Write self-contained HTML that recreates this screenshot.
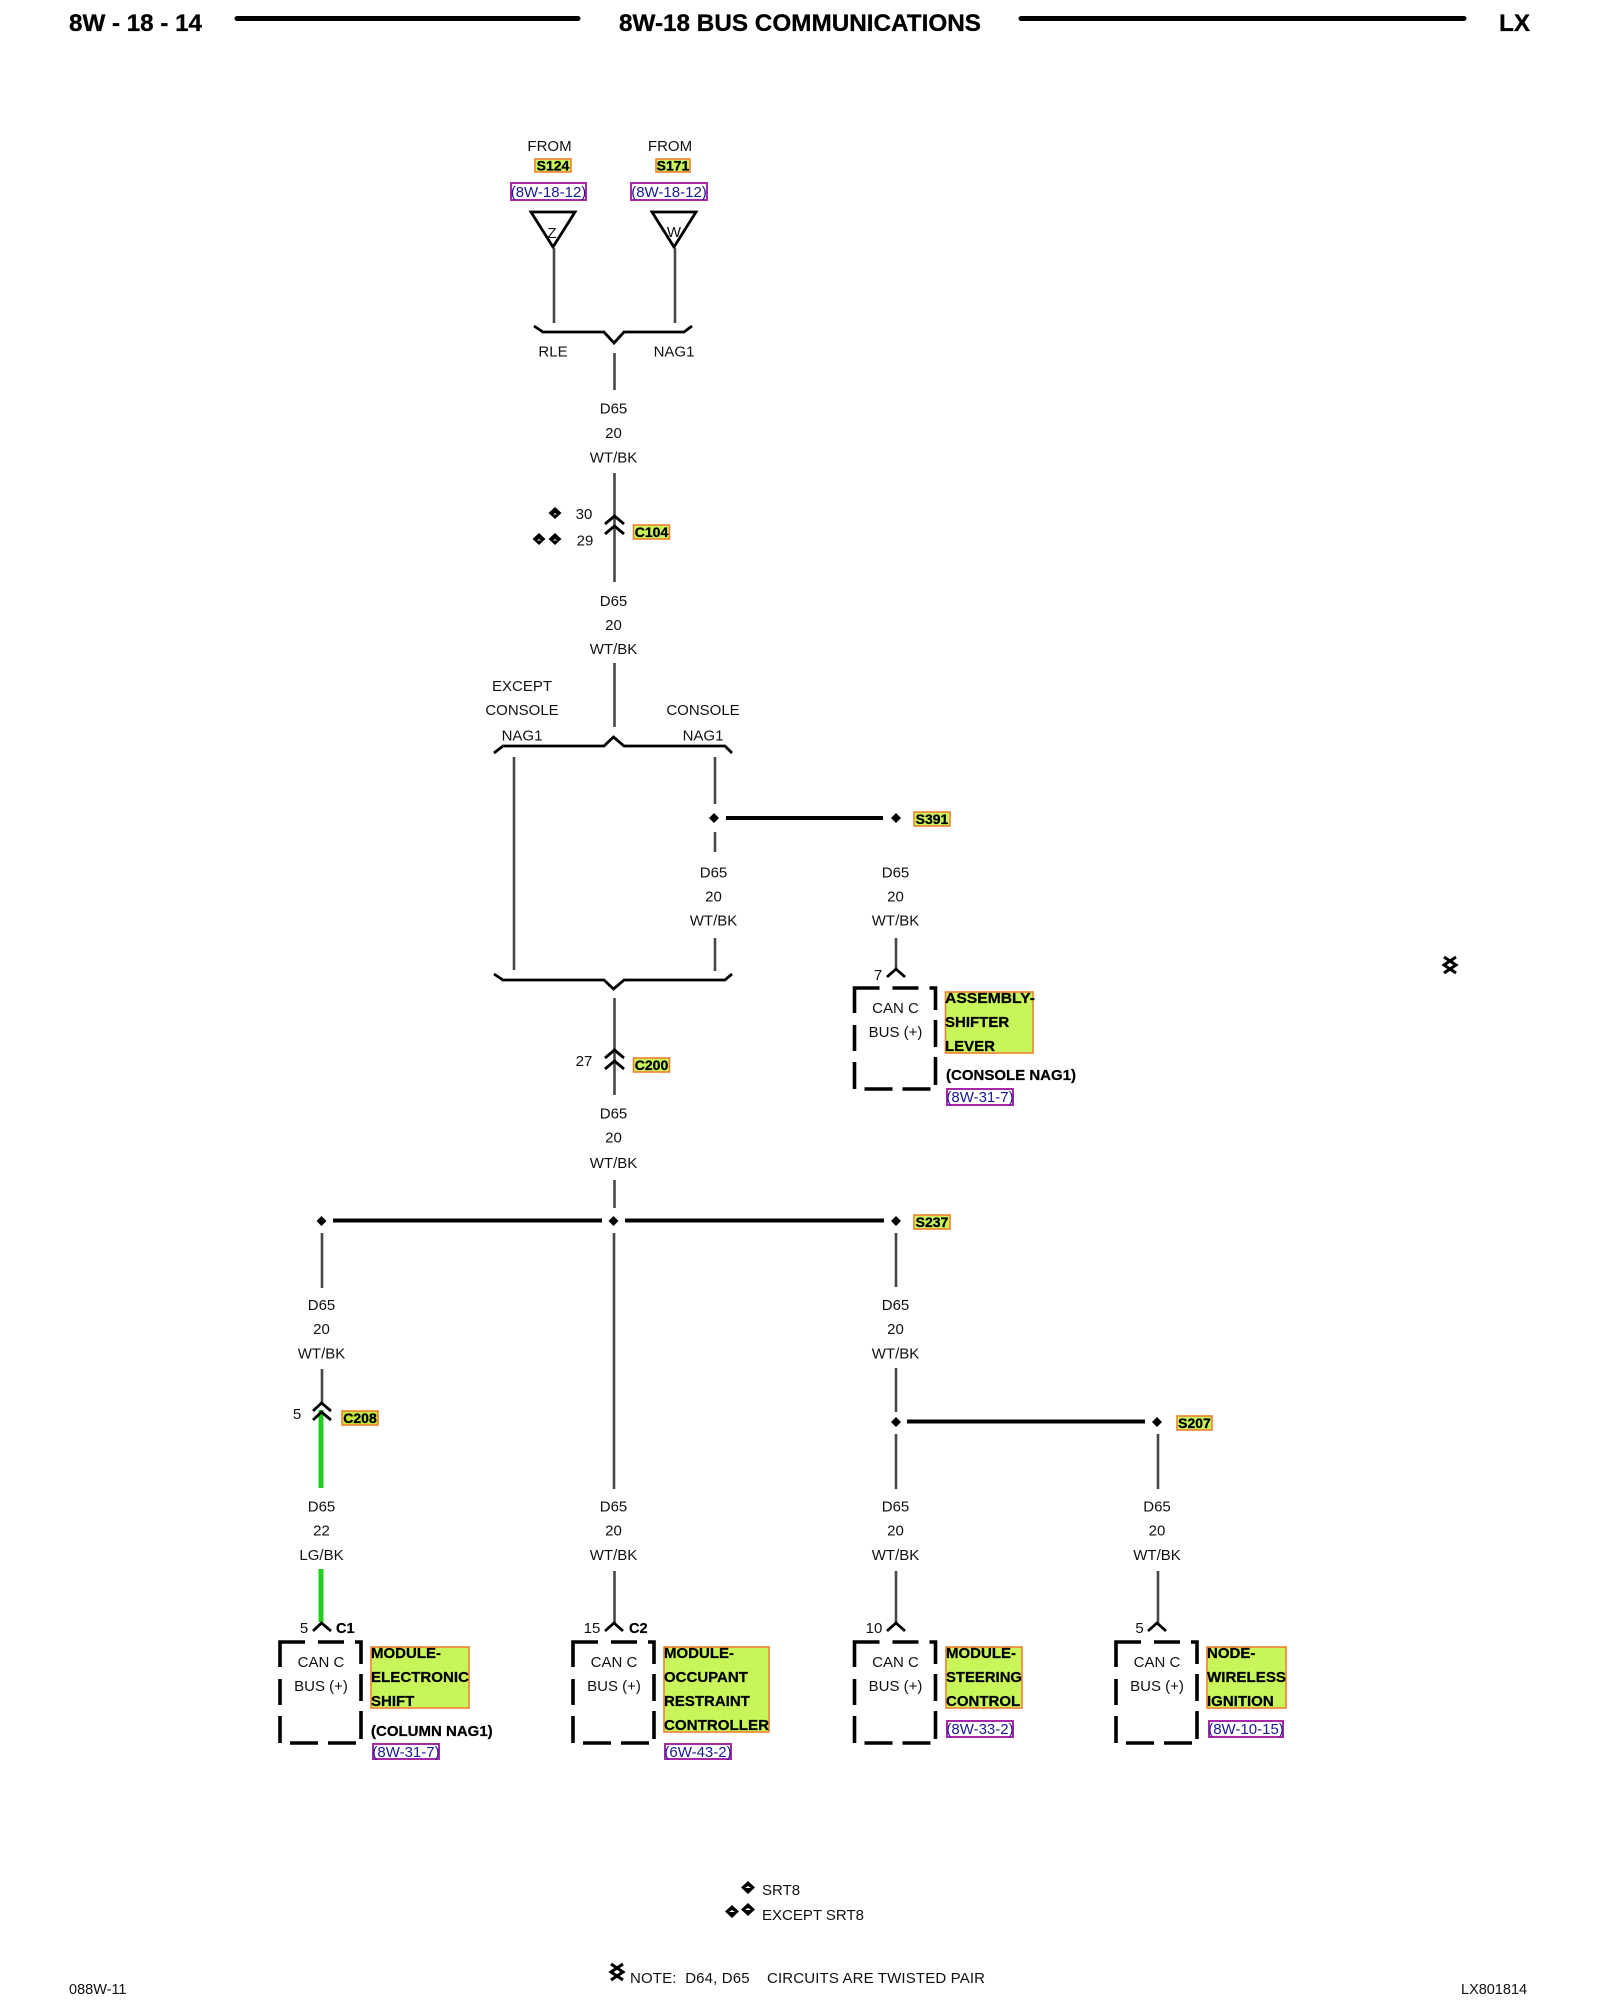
<!DOCTYPE html>
<html><head><meta charset="utf-8"><style>
html,body{margin:0;padding:0;background:#fff}
svg{display:block;filter:blur(.35px)}
text{font-family:"Liberation Sans",sans-serif;fill:#111;white-space:pre}
.t{font-size:15px;text-anchor:middle;transform:translateY(-1px)}
.n{font-size:15px}
.b{font-size:15px;font-weight:bold;fill:#000;stroke:#000;stroke-width:.25}
.h{font-size:24px;font-weight:bold;fill:#000;stroke:#000;stroke-width:.3}
.y{fill:#c8f55a;stroke:#f08030;stroke-width:1.6}
.l{fill:#bfe838;stroke:#f08030;stroke-width:1.6}
.lt{font-size:14px;font-weight:bold;fill:#000;text-anchor:middle;stroke:#000;stroke-width:.3}
.r{fill:#fff;stroke:#a828a8;stroke-width:2}
.rt{font-size:15px;fill:#1a1a98;text-anchor:middle}
.w{stroke:#484848;stroke-width:2.6;fill:none}
.g{stroke:#1fd01f;stroke-width:5;fill:none}
.k{stroke:#000;stroke-width:4;fill:none}
.c{stroke:#000;stroke-width:2.8;fill:none}
.d{stroke:#000;stroke-width:3.6;fill:none}
</style></head><body>
<svg width="1600" height="2000" viewBox="0 0 1600 2000" xmlns="http://www.w3.org/2000/svg">
<!-- header -->
<text class="h" x="69" y="31" textLength="133" lengthAdjust="spacingAndGlyphs">8W - 18 - 14</text>
<text class="h" x="619" y="31" textLength="362" lengthAdjust="spacingAndGlyphs">8W-18 BUS COMMUNICATIONS</text>
<text class="h" x="1499" y="31" textLength="31" lengthAdjust="spacingAndGlyphs">LX</text>
<path d="M237 18.500H578M1021 18.500H1464" stroke="#000" stroke-width="5" stroke-linecap="round"/>

<!-- top -->
<text class="t" x="549.500" y="152">FROM</text>
<text class="t" x="670" y="152">FROM</text>
<rect class="y" x="535" y="159" width="36" height="13"/><text class="lt" x="553" y="170.500">S124</text>
<rect class="y" x="656" y="159" width="34" height="13"/><text class="lt" x="673" y="170.500">S171</text>
<rect class="r" x="511" y="183" width="75" height="17"/><text class="rt" x="548.500" y="197">(8W-18-12)</text>
<rect class="r" x="631" y="183" width="76" height="17"/><text class="rt" x="669" y="197">(8W-18-12)</text>
<path class="c" d="M531 212H575L553 247ZM652 212H696L674 247Z"/>
<text class="t" x="552" y="239">Z</text><text class="t" x="674" y="238">W</text>
<path class="w" d="M554 248V323M675 248V323"/>
<path class="c" d="M534 326L543 332H604L614 343L624 332H684L692 326"/>
<text class="t" x="553" y="357.500">RLE</text><text class="t" x="674" y="357.500">NAG1</text>
<path class="w" d="M614.500 353V390"/>
<text class="t" x="613.500" y="414.500">D65</text><text class="t" x="613.500" y="439">20</text><text class="t" x="613.500" y="463.500">WT/BK</text>
<path class="w" d="M614.500 473V582"/>
<path class="c" d="M605 524L614.500 516L624 524M605 534L614.500 526L624 534"/>
<path d="M555 507l6.500 6l-6.500 6l-6.500-6zM539 533l6.500 6l-6.500 6l-6.500-6zM555 533l6.500 6l-6.500 6l-6.500-6z" fill="#000"/>
<path d="M555 513l2 1.500h-4zM539 539l2 1.500h-4zM555 539l2 1.500h-4z" fill="#fff"/>
<text class="t" x="584" y="520">30</text><text class="t" x="585" y="546.500">29</text>
<rect class="y" x="633.500" y="525" width="36" height="14"/><text class="lt" x="651.500" y="537">C104</text>
<text class="t" x="613.500" y="607">D65</text><text class="t" x="613.500" y="631">20</text><text class="t" x="613.500" y="655">WT/BK</text>
<path class="w" d="M614.500 663V727"/>
<text class="t" x="522" y="692">EXCEPT</text><text class="t" x="522" y="716">CONSOLE</text><text class="t" x="522" y="741.500">NAG1</text>
<text class="t" x="703" y="716">CONSOLE</text><text class="t" x="703" y="741.500">NAG1</text>
<path class="c" d="M494 753L503 746H604L613.500 737L624 746H725L732 753"/>
<path class="w" d="M514 757V970M715 757V804M715 832V852M715 938V971"/>

<!-- S391 -->
<path d="M714 813l5 5l-5 5l-5-5zM896 813l5 5l-5 5l-5-5z" fill="#000"/>
<path class="k" d="M726 818H883"/>
<rect class="y" x="914" y="812" width="36" height="14"/><text class="lt" x="932" y="824">S391</text>
<text class="t" x="713.500" y="878.500">D65</text><text class="t" x="713.500" y="902.500">20</text><text class="t" x="713.500" y="926.500">WT/BK</text>
<text class="t" x="895.500" y="878.500">D65</text><text class="t" x="895.500" y="902.500">20</text><text class="t" x="895.500" y="926.500">WT/BK</text>
<path class="w" d="M896 938V968"/>
<path class="c" d="M887 977L896 969L905 977"/>
<text class="t" x="878" y="981">7</text>

<!-- shifter box -->
<g transform="translate(854.500,988)"><path class="d" d="M0 25V0H25M38 0H64M75 0H81V22M81 32V59M81 69V97M0 37V63M0 74V101M10 101H38M48 101H76"/>
<text class="t" x="41" y="26">CAN C</text><text class="t" x="41" y="50">BUS (+)</text></g>
<rect class="y" x="945.500" y="992" width="87.500" height="61"/>
<text class="b" x="945" y="1003" textLength="90" lengthAdjust="spacingAndGlyphs">ASSEMBLY-</text><text class="b" x="945" y="1027">SHIFTER</text><text class="b" x="945" y="1051">LEVER</text>
<text class="b" x="946" y="1080">(CONSOLE NAG1)</text>
<rect class="r" x="947" y="1089" width="66" height="16"/><text class="rt" x="980" y="1102">(8W-31-7)</text>

<!-- lower brace -->
<path class="c" d="M494 974L503 980H604L613.500 989L624 980H725L732 974"/>
<path class="w" d="M614.500 998V1095"/>
<path class="c" d="M605 1058L614.500 1050L624 1058M605 1069L614.500 1061L624 1069"/>
<text class="t" x="584" y="1067">27</text>
<rect class="y" x="633.500" y="1058" width="36" height="14"/><text class="lt" x="651.500" y="1070">C200</text>
<text class="t" x="613.500" y="1119.500">D65</text><text class="t" x="613.500" y="1143.500">20</text><text class="t" x="613.500" y="1169">WT/BK</text>
<path class="w" d="M614.500 1180V1208"/>

<!-- S237 row -->
<path d="M321.500 1216l5 5l-5 5l-5-5zM613.500 1216l5 5l-5 5l-5-5zM896 1216l5 5l-5 5l-5-5z" fill="#000"/>
<path class="k" d="M333 1220.500H602M625 1220.500H884"/>
<rect class="y" x="914" y="1215" width="36" height="14"/><text class="lt" x="932" y="1227">S237</text>
<path class="w" d="M322 1233V1288M614 1233V1489M896 1233V1287"/>
<text class="t" x="321.500" y="1311">D65</text><text class="t" x="321.500" y="1335">20</text><text class="t" x="321.500" y="1359.500">WT/BK</text>
<text class="t" x="895.500" y="1311">D65</text><text class="t" x="895.500" y="1335">20</text><text class="t" x="895.500" y="1359.500">WT/BK</text>

<!-- C208 -->
<path class="w" d="M322 1369V1404"/>
<path class="g" d="M321 1410V1488M321 1569V1622"/>
<path class="c" d="M313 1411L321.500 1403L331 1411M313 1420L321.500 1412L331 1420"/>
<text class="t" x="297" y="1420">5</text>
<rect class="l" x="342" y="1411" width="36" height="14"/><text class="lt" x="360" y="1423">C208</text>

<!-- S207 -->
<path class="w" d="M896 1368V1412M896 1434V1489M1158 1434V1489"/>
<path d="M896 1417l5 5l-5 5l-5-5zM1157 1417l5 5l-5 5l-5-5z" fill="#000"/>
<path class="k" d="M907 1421.500H1145"/>
<rect class="y" x="1177" y="1416" width="35" height="14"/><text class="lt" x="1194.500" y="1428">S207</text>

<!-- lower wire labels -->
<text class="t" x="321.500" y="1512.500">D65</text><text class="t" x="321.500" y="1536.500">22</text><text class="t" x="321.500" y="1561">LG/BK</text>
<text class="t" x="613.500" y="1512.500">D65</text><text class="t" x="613.500" y="1536.500">20</text><text class="t" x="613.500" y="1561">WT/BK</text>
<text class="t" x="895.500" y="1512.500">D65</text><text class="t" x="895.500" y="1536.500">20</text><text class="t" x="895.500" y="1561">WT/BK</text>
<text class="t" x="1157" y="1512.500">D65</text><text class="t" x="1157" y="1536.500">20</text><text class="t" x="1157" y="1561">WT/BK</text>
<path class="w" d="M614.500 1571V1623M896 1571V1623M1158 1571V1623"/>

<!-- connectors -->
<path class="c" d="M313 1631L321.500 1623L331 1631M605 1631L614 1623L623 1631M887 1631L896 1623L905 1631M1148 1631L1157 1623L1166 1631"/>
<text class="t" x="304" y="1634">5</text><text class="b" x="336" y="1633" style="font-size:14.500px">C1</text>
<text class="t" x="592" y="1634">15</text><text class="b" x="629" y="1633" style="font-size:14.500px">C2</text>
<text class="t" x="874" y="1634">10</text><text class="t" x="1139.500" y="1634">5</text>

<!-- boxes -->
<g transform="translate(280,1642)"><path class="d" d="M0 25V0H25M38 0H64M75 0H81V22M81 32V59M81 69V97M0 37V63M0 74V101M10 101H38M48 101H76"/>
<text class="t" x="41" y="26">CAN C</text><text class="t" x="41" y="50">BUS (+)</text></g>
<g transform="translate(573,1642)"><path class="d" d="M0 25V0H25M38 0H64M75 0H81V22M81 32V59M81 69V97M0 37V63M0 74V101M10 101H38M48 101H76"/>
<text class="t" x="41" y="26">CAN C</text><text class="t" x="41" y="50">BUS (+)</text></g>
<g transform="translate(854.500,1642)"><path class="d" d="M0 25V0H25M38 0H64M75 0H81V22M81 32V59M81 69V97M0 37V63M0 74V101M10 101H38M48 101H76"/>
<text class="t" x="41" y="26">CAN C</text><text class="t" x="41" y="50">BUS (+)</text></g>
<g transform="translate(1116,1642)"><path class="d" d="M0 25V0H25M38 0H64M75 0H81V22M81 32V59M81 69V97M0 37V63M0 74V101M10 101H38M48 101H76"/>
<text class="t" x="41" y="26">CAN C</text><text class="t" x="41" y="50">BUS (+)</text></g>

<rect class="y" x="371" y="1647" width="98" height="61"/>
<text class="b" x="371" y="1658">MODULE-</text><text class="b" x="371" y="1682" textLength="98" lengthAdjust="spacingAndGlyphs">ELECTRONIC</text><text class="b" x="371" y="1706">SHIFT</text>
<text class="b" x="371" y="1736">(COLUMN NAG1)</text>
<rect class="r" x="373" y="1744" width="66" height="15"/><text class="rt" x="406" y="1757">(8W-31-7)</text>

<rect class="y" x="664" y="1647" width="105" height="85"/>
<text class="b" x="664" y="1658">MODULE-</text><text class="b" x="664" y="1682">OCCUPANT</text><text class="b" x="664" y="1706">RESTRAINT</text><text class="b" x="664" y="1730" textLength="105" lengthAdjust="spacingAndGlyphs">CONTROLLER</text>
<rect class="r" x="665" y="1744" width="66" height="15"/><text class="rt" x="698" y="1757">(6W-43-2)</text>

<rect class="y" x="946" y="1647" width="76" height="61"/>
<text class="b" x="946" y="1658">MODULE-</text><text class="b" x="946" y="1682" textLength="76" lengthAdjust="spacingAndGlyphs">STEERING</text><text class="b" x="946" y="1706">CONTROL</text>
<rect class="r" x="947" y="1721" width="66" height="16"/><text class="rt" x="980" y="1734">(8W-33-2)</text>

<rect class="y" x="1207" y="1647" width="79" height="61"/>
<text class="b" x="1207" y="1658">NODE-</text><text class="b" x="1207" y="1682" textLength="79" lengthAdjust="spacingAndGlyphs">WIRELESS</text><text class="b" x="1207" y="1706">IGNITION</text>
<rect class="r" x="1209" y="1721" width="74" height="16"/><text class="rt" x="1246" y="1734">(8W-10-15)</text>

<!-- legend -->
<path d="M748 1881l7 6.500l-7 6.500l-7-6.500zM732 1905l7 6.500l-7 6.500l-7-6.500zM748 1903l7 6.500l-7 6.500l-7-6.500z" fill="#000"/>
<path d="M748 1886l3 2h-6zM732 1910l3 2h-6zM748 1908l3 2h-6z" fill="#fff"/>
<text class="n" x="762" y="1895">SRT8</text>
<text class="n" x="762" y="1920">EXCEPT SRT8</text>
<path d="M611 1964L623 1972L611 1980M623 1964L611 1972L623 1980M1444 957L1456 965L1444 973M1456 957L1444 965L1456 973" stroke="#000" stroke-width="3" fill="none"/>
<text class="n" x="630" y="1983" textLength="355" xml:space="preserve">NOTE:  D64, D65    CIRCUITS ARE TWISTED PAIR</text>
<text x="69" y="1994" style="font-size:14.500px">088W-11</text>
<text x="1461" y="1994" style="font-size:14.500px">LX801814</text>
</svg>
</body></html>
